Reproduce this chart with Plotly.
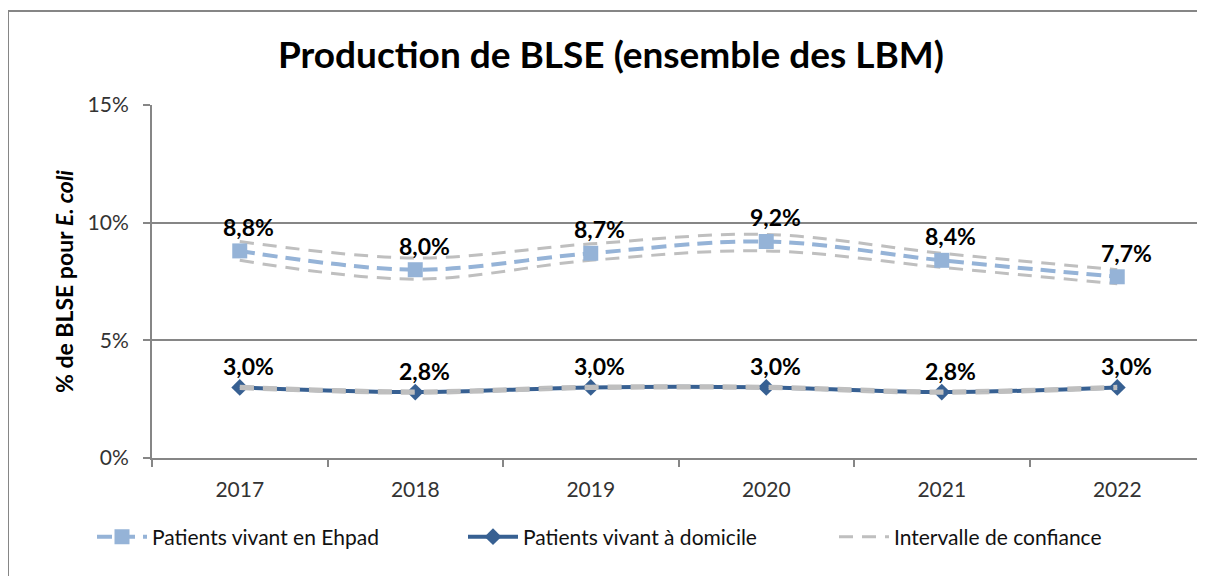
import plotly.graph_objects as go

years = ["2017", "2018", "2019", "2020", "2021", "2022"]
ehpad = [8.8, 8.0, 8.7, 9.2, 8.4, 7.7]
ehpad_low = [8.4, 7.6, 8.4, 8.8, 8.1, 7.4]
ehpad_high = [9.2, 8.5, 9.1, 9.5, 8.7, 8.0]
domicile = [3.0, 2.8, 3.0, 3.0, 2.8, 3.0]
dom_low = [2.95, 2.75, 2.95, 2.95, 2.75, 2.95]
dom_high = [3.05, 2.85, 3.05, 3.05, 2.85, 3.05]
y_ticks = [0, 5, 10, 15]
y_ticklabels = ["0%", "5%", "10%", "15%"]

FONT = "Lato"
GRAY = "#BFBFBF"
LIGHT = "#95B3D7"
DARK = "#376092"
AX = "#868686"

W, H = 1197, 568  # page body has an 8px margin
L, T, B, R = 144, 97, 118, 0
PW, PH = W - L - R, H - T - B


def lbl(v):
    return f"{v:.1f}".replace(".", ",") + "%"


fig = go.Figure()

fig.add_trace(go.Scatter(
    x=years, y=domicile, mode="lines+markers", name="Patients vivant à domicile",
    line=dict(color=DARK, width=4, shape="spline"),
    marker=dict(symbol="diamond", size=13, color=DARK),
    legendrank=2, cliponaxis=False))

ci_sets = [(ehpad_low, True), (ehpad_high, False), (dom_low, False), (dom_high, False)]
for vals, show in ci_sets:
    fig.add_trace(go.Scatter(
        x=years, y=vals, mode="lines", name="Intervalle de confiance",
        line=dict(color=GRAY, width=3, dash="14px,9px", shape="spline"),
        showlegend=show, legendrank=3, hoverinfo="skip"))

fig.add_trace(go.Scatter(
    x=years, y=ehpad, mode="lines+markers", name="Patients vivant en Ehpad",
    line=dict(color=LIGHT, width=4, dash="15px,8px", shape="spline"),
    marker=dict(symbol="square", size=15, color=LIGHT),
    legendrank=1, cliponaxis=False))

# data labels (x given as category index)
for series, ys in ((ehpad, 8), (domicile, 5)):
    for i, v in enumerate(series):
        fig.add_annotation(x=i, y=v, xref="x", yref="y", text=f"<b>{lbl(v)}</b>",
                           showarrow=False, xanchor="center", yanchor="bottom",
                           xshift=9, yshift=ys,
                           font=dict(family=FONT, size=23, color="black"))

fig.update_layout(
    width=W, height=H,
    margin=dict(l=L, r=R, t=T, b=B),
    paper_bgcolor="white", plot_bgcolor="white",
    font=dict(family=FONT, color="#222222"),
    title=dict(text="<b>Production de BLSE (ensemble des LBM)</b>",
               x=(611 - 8 - L) / PW, xref="paper", xanchor="center",
               y=1 - 47 / H, yanchor="middle",
               font=dict(family=FONT, size=37, color="black")),
    showlegend=True,
    legend=dict(orientation="h", x=(102 - 8 - L) / PW, xanchor="left",
                y=-(537 - 8 - (T + PH)) / PH, yanchor="middle",
                font=dict(family=FONT, size=21, color="#111111"),
                entrywidth=306, entrywidthmode="pixels", itemwidth=50,
                traceorder="normal"),
)

fig.update_xaxes(
    type="category", range=[-0.5, 5.5],
    showgrid=False, showline=True, linecolor=AX, linewidth=2,
    ticks="outside", tickson="boundaries", ticklen=7, tickcolor=AX, tickwidth=2,
    tickfont=dict(family=FONT, size=21, color="#333333"), ticklabelstandoff=12)

fig.update_yaxes(
    range=[0, 15], tickvals=y_ticks, ticktext=y_ticklabels,
    showgrid=True, gridcolor=AX, gridwidth=2,
    showline=True, linecolor=AX, linewidth=2,
    ticks="outside", ticklen=7, tickcolor=AX, tickwidth=2,
    tickfont=dict(family=FONT, size=21, color="#333333"), ticklabelstandoff=10,
    zeroline=False,
    title=dict(text="<b>% de BLSE pour <i>E. coli</i></b>", standoff=8,
               font=dict(family=FONT, size=23, color="black")))

fig.add_shape(type="rect", xref="paper", yref="paper",
              x0=(8 - 8 - L) / PW, x1=1.05, y0=-0.6, y1=1 + (T - 3) / PH,
              line=dict(color=AX, width=2), fillcolor="rgba(0,0,0,0)", layer="below")

fig.write_html("out.html")
